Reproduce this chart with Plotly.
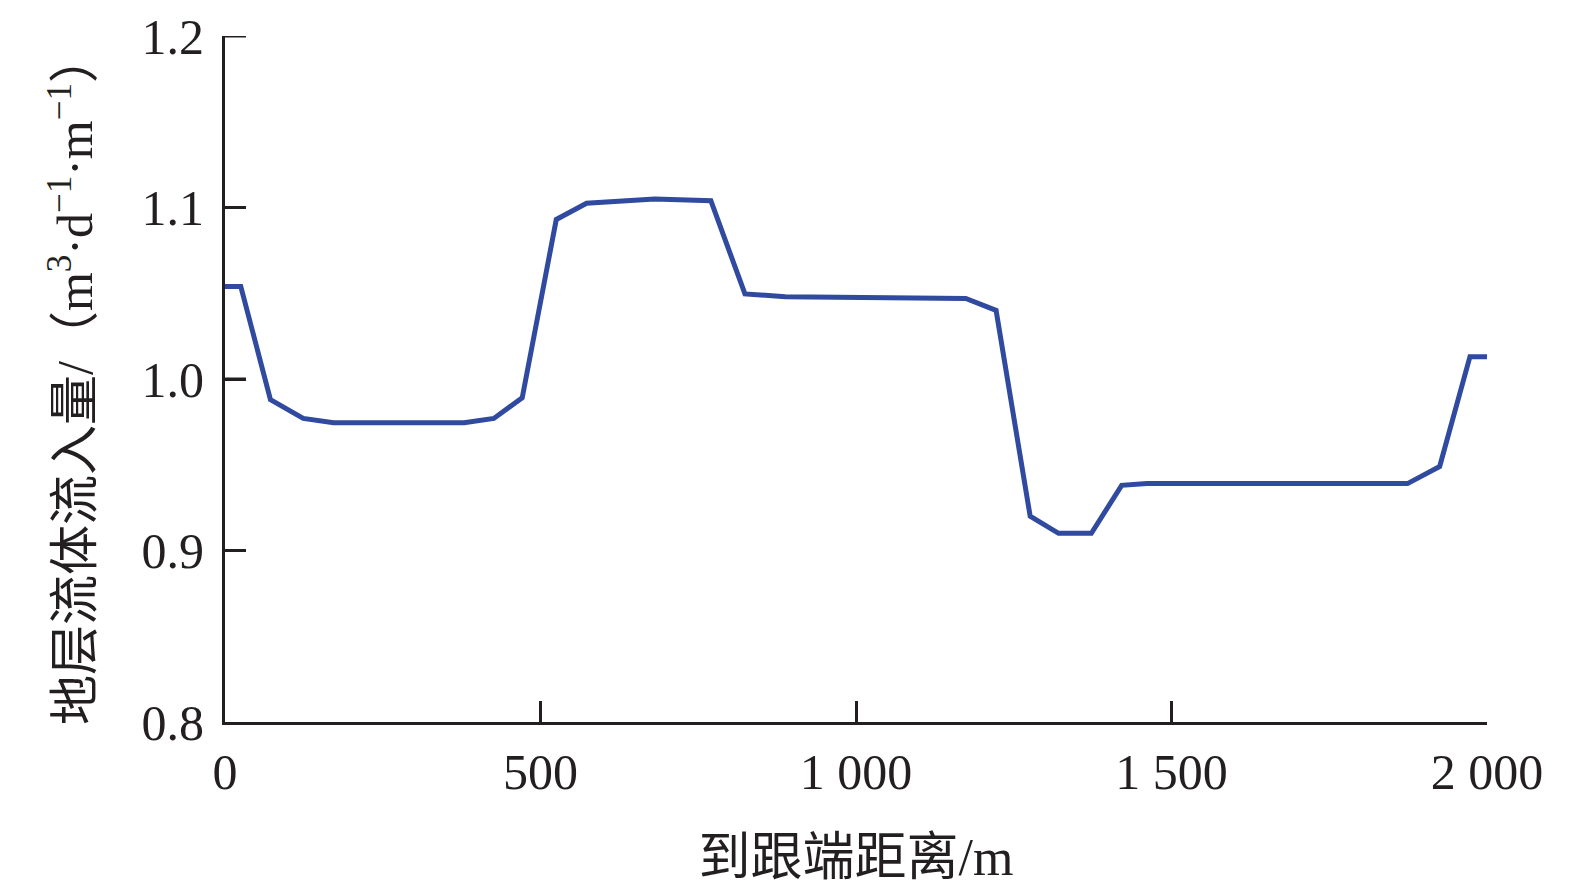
import plotly.graph_objects as go

# distância ao calcanhar (m) e vazão de influxo
dist = [0, 25, 72, 124, 172, 379, 426, 471, 525, 573, 681, 770, 824, 888,
        1174, 1222, 1276, 1321, 1373, 1421, 1461, 1874, 1925, 1973, 2000]
influxo = [1.054, 1.054, 0.988, 0.977, 0.9745, 0.9745, 0.977, 0.989, 1.093,
           1.1025, 1.105, 1.104, 1.0496, 1.048, 1.047, 1.040, 0.920, 0.910,
           0.910, 0.938, 0.939, 0.939, 0.949, 1.013, 1.013]

x_ticks = [0, 500, 1000, 1500, 2000]
x_labels = ["0", "500", "1 000", "1 500", "2 000"]
y_ticks = [0.8, 0.9, 1.0, 1.1, 1.2]
y_labels = ["0.8", "0.9", "1.0", "1.1", "1.2"]

FONT = "Liberation Serif, Times New Roman, Noto Sans CJK SC, serif"
PRETO = "#231F20"
TICK_LEN = 21
PLOT_W = 1262

fig = go.Figure(
    go.Scatter(
        x=dist,
        y=influxo,
        mode="lines",
        line=dict(color="#2F4A9E", width=5),
        hoverinfo="skip",
        cliponaxis=False,
    )
)

# a página tem 8px de margem no body: compensado nas margens
fig.update_layout(
    width=1567,
    height=888,
    paper_bgcolor="white",
    plot_bgcolor="white",
    margin=dict(l=217, r=1567 - 217 - PLOT_W, t=28, b=174),
    showlegend=False,
    font=dict(family=FONT, color=PRETO),
)

fig.update_xaxes(
    range=[0, 2000],
    tickvals=x_ticks,
    ticktext=x_labels,
    ticklabelstandoff=4,
    title=dict(text="到跟端距离/m", font=dict(family=FONT, size=52), standoff=40),
)
fig.update_yaxes(
    range=[0.8, 1.2],
    tickvals=y_ticks,
    ticktext=y_labels,
    ticklabelstandoff=8,
    title=dict(
        text="地层流体流入量/（m<sup>3</sup>·d<sup>−1</sup>·m<sup>−1</sup>）",
        font=dict(family=FONT, size=50),
        standoff=34,
    ),
)
_eixo = dict(
    showgrid=False, zeroline=False, showline=True, automargin=False,
    linecolor=PRETO, linewidth=3,
    ticks="inside", ticklen=TICK_LEN, tickwidth=3, tickcolor=PRETO,
    tickfont=dict(family=FONT, size=50, color=PRETO),
)
fig.update_xaxes(**_eixo)
fig.update_yaxes(**_eixo)

# marcas internas do eixo y (reforço; a de 1.2 o plotly omite)
for v in y_ticks[1:]:
    fig.add_shape(
        type="line", xref="x domain", yref="y",
        x0=0, x1=TICK_LEN / PLOT_W, y0=v, y1=v,
        line=dict(color=PRETO, width=3),
    )

# sem camada de arrasto por cima do eixo
fig.write_html("out.html", config={"staticPlot": True})
